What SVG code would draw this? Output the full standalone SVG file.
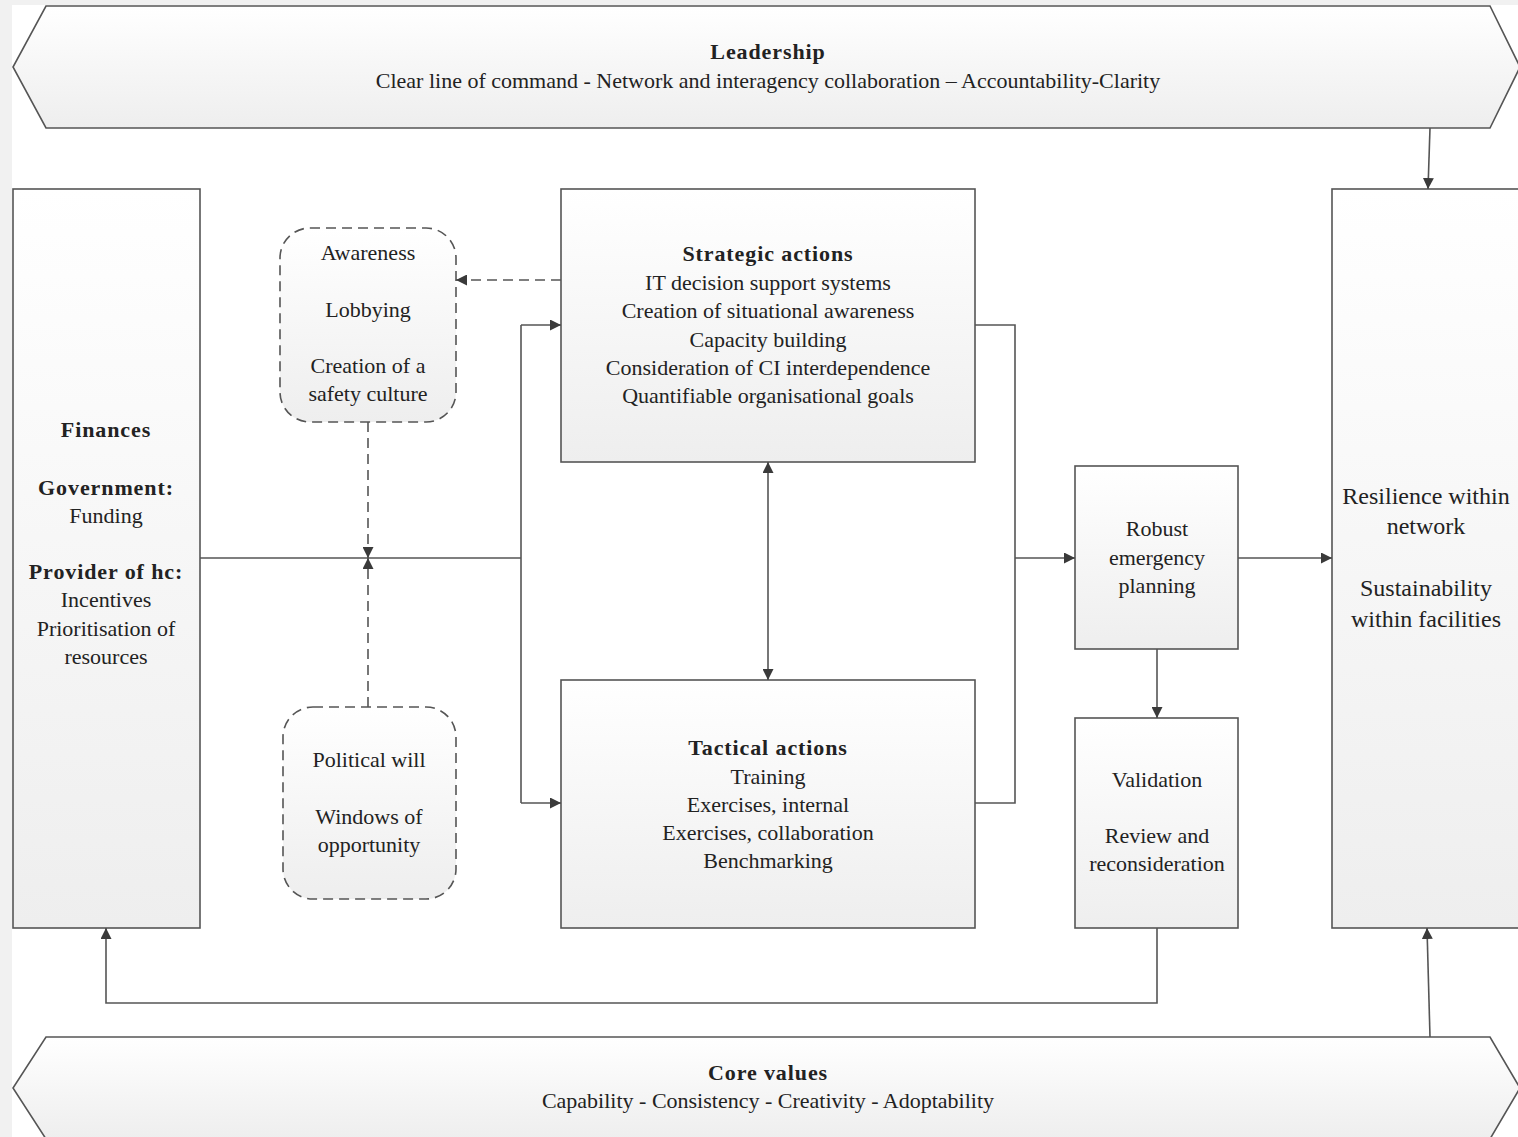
<svg xmlns="http://www.w3.org/2000/svg" width="1518" height="1137" viewBox="0 0 1518 1137">
<defs>
<linearGradient id="g" x1="0" y1="0" x2="0" y2="1">
<stop offset="0" stop-color="#ffffff"/>
<stop offset="1" stop-color="#eeeeee"/>
</linearGradient>
<marker id="ah" viewBox="0 0 10 10" refX="10" refY="5" markerWidth="11" markerHeight="11" markerUnits="userSpaceOnUse" orient="auto-start-reverse">
<path d="M0,0 L10,5 L0,10 z" fill="#3a3a3a"/>
</marker>
</defs>
<style>
.box{fill:url(#g);stroke:#555;stroke-width:1.6}
.dbox{fill:url(#g);stroke:#555;stroke-width:1.6;stroke-dasharray:10,6}
.ln{fill:none;stroke:#555;stroke-width:1.6}
.dl{fill:none;stroke:#555;stroke-width:1.6;stroke-dasharray:10,6}
text{font-family:"Liberation Serif","Times New Roman",serif;font-size:22px;fill:#222;text-anchor:middle}
.b{font-weight:bold;letter-spacing:0.9px}
.lg{font-size:24px}
</style>
<rect x="0" y="0" width="1518" height="1137" fill="#ffffff"/>
<rect x="0" y="0" width="12" height="1137" fill="#f1f1f1"/>
<rect x="0" y="0" width="1518" height="5" fill="#f1f1f1"/>

<g id="leadership">
<polygon class="box" points="46,6 1490,6 1520,67 1490,128 46,128 13,67"/>
<text x="768" y="59" class="b">Leadership</text>
<text x="768" y="88">Clear line of command - Network and interagency collaboration – Accountability-Clarity</text>
</g>
<g id="corevalues">
<polygon class="box" points="46,1037 1490,1037 1520,1088 1490,1139 46,1139 13,1088"/>
<text x="768" y="1080" class="b">Core values</text>
<text x="768" y="1108">Capability - Consistency - Creativity - Adoptability</text>
</g>
<g id="finances">
<rect class="box" x="13" y="189" width="187" height="739"/>
<text x="106" y="437" class="b">Finances</text>
<text x="106" y="495" class="b">Government:</text>
<text x="106" y="523">Funding</text>
<text x="106" y="579" class="b">Provider of hc:</text>
<text x="106" y="607">Incentives</text>
<text x="106" y="636">Prioritisation of</text>
<text x="106" y="664">resources</text>
</g>
<g id="awareness">
<rect class="dbox" x="280" y="228" width="176" height="194" rx="30" ry="30"/>
<text x="368" y="260">Awareness</text>
<text x="368" y="317">Lobbying</text>
<text x="368" y="373">Creation of a</text>
<text x="368" y="401">safety culture</text>
</g>
<g id="political">
<rect class="dbox" x="283" y="707" width="173" height="192" rx="30" ry="30"/>
<text x="369" y="767">Political will</text>
<text x="369" y="824">Windows of</text>
<text x="369" y="852">opportunity</text>
</g>
<g id="strategic">
<rect class="box" x="561" y="189" width="414" height="273"/>
<text x="768" y="261" class="b">Strategic actions</text>
<text x="768" y="290">IT decision support systems</text>
<text x="768" y="318">Creation of situational awareness</text>
<text x="768" y="347">Capacity building</text>
<text x="768" y="375">Consideration of CI interdependence</text>
<text x="768" y="403">Quantifiable organisational goals</text>
</g>
<g id="tactical">
<rect class="box" x="561" y="680" width="414" height="248"/>
<text x="768" y="755" class="b">Tactical actions</text>
<text x="768" y="784">Training</text>
<text x="768" y="812">Exercises, internal</text>
<text x="768" y="840">Exercises, collaboration</text>
<text x="768" y="868">Benchmarking</text>
</g>
<g id="robust">
<rect class="box" x="1075" y="466" width="163" height="183"/>
<text x="1157" y="536">Robust</text>
<text x="1157" y="565">emergency</text>
<text x="1157" y="593">planning</text>
</g>
<g id="validation">
<rect class="box" x="1075" y="718" width="163" height="210"/>
<text x="1157" y="787">Validation</text>
<text x="1157" y="843">Review and</text>
<text x="1157" y="871">reconsideration</text>
</g>
<g id="resilience">
<rect class="box" x="1332" y="189" width="190" height="739"/>
<text x="1426" y="504" class="lg">Resilience within</text>
<text x="1426" y="534" class="lg">network</text>
<text x="1426" y="596" class="lg">Sustainability</text>
<text x="1426" y="627" class="lg">within facilities</text>
</g>

<g id="connectors">
<path class="ln" d="M200,558 H521"/>
<path class="ln" d="M521,325 V803"/>
<path class="ln" d="M521,325 H561" marker-end="url(#ah)"/>
<path class="ln" d="M521,803 H561" marker-end="url(#ah)"/>
<path class="dl" d="M561,280 H456" marker-end="url(#ah)"/>
<path class="dl" d="M368,422 V558" marker-end="url(#ah)"/>
<path class="dl" d="M368,707 V558" marker-end="url(#ah)"/>
<path class="ln" d="M768,462 V680" marker-start="url(#ah)" marker-end="url(#ah)"/>
<path class="ln" d="M975,325 H1015 V803 H975"/>
<path class="ln" d="M1015,558 H1075" marker-end="url(#ah)"/>
<path class="ln" d="M1238,558 H1332" marker-end="url(#ah)"/>
<path class="ln" d="M1157,649 V718" marker-end="url(#ah)"/>
<path class="ln" d="M1157,928 V1003 H106 V928" marker-end="url(#ah)"/>
<path class="ln" d="M1430,128 L1428,189" marker-end="url(#ah)"/>
<path class="ln" d="M1430,1037 L1427,928" marker-end="url(#ah)"/>
</g>
</svg>
